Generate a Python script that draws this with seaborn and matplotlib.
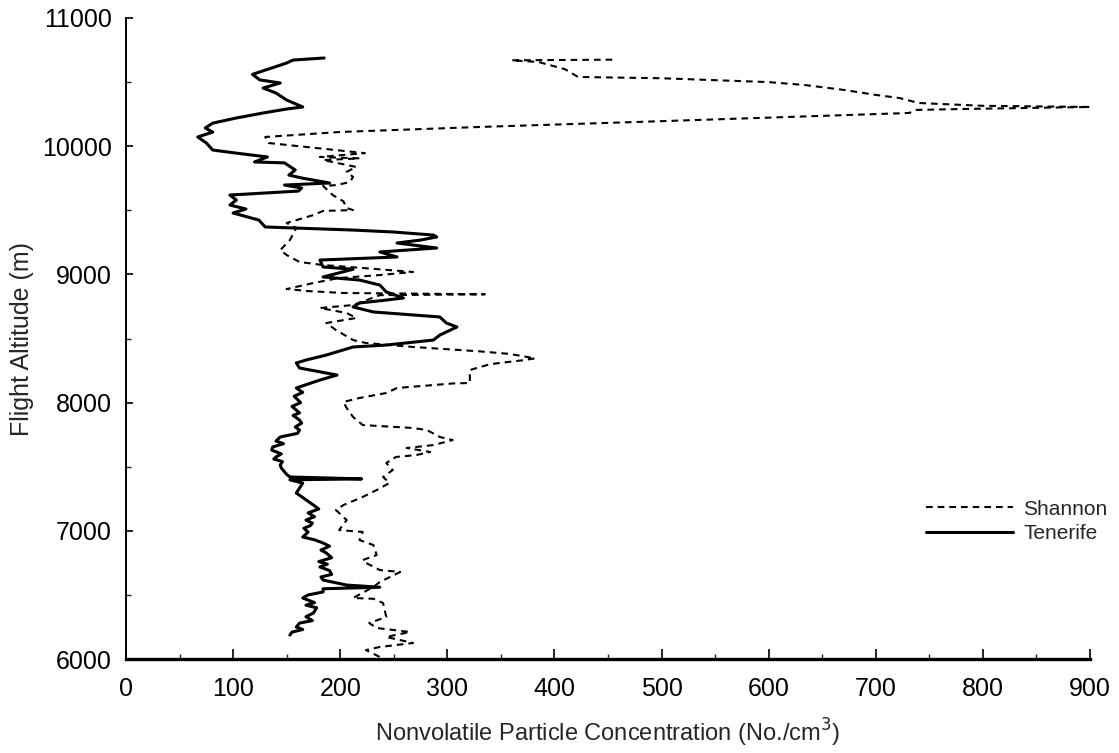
import matplotlib
matplotlib.use("Agg")
import matplotlib.pyplot as plt
import seaborn as sns
import pandas as pd

# Tenerife profile (solid), traced from the top of the flight down
tenerife_alt = [10688, 10672, 10649, 10580, 10560, 10517, 10493, 10454, 10415, 10360,
                10306, 10290, 10259, 10220, 10180, 10142, 10110, 10072, 10025, 9970,
                9946, 9916, 9877, 9870, 9814, 9775, 9752, 9713, 9697, 9674,
                9650, 9619, 9580, 9541, 9510, 9479, 9424, 9370, 9346, 9331,
                9307, 9292, 9268, 9245, 9206, 9175, 9136, 9112, 9058, 9040,
                8980, 8956, 8917, 8863, 8816, 8800, 8777, 8746, 8707, 8668,
                8621, 8590, 8527, 8488, 8449, 8434, 8371, 8332, 8309, 8270,
                8215, 8176, 8114, 8080, 8050, 8000, 7970, 7920, 7900, 7864,
                7840, 7810, 7786, 7760, 7732, 7700, 7680, 7654, 7630, 7600,
                7576, 7560, 7540, 7513, 7490, 7460, 7440, 7420, 7405, 7398,
                7372, 7295, 7201, 7170, 7140, 7110, 7084, 7060, 7040, 7020,
                6990, 6952, 6930, 6905, 6880, 6850, 6827, 6790, 6760, 6740,
                6718, 6690, 6660, 6640, 6616, 6577, 6560, 6548, 6523, 6500,
                6476, 6440, 6420, 6400, 6359, 6330, 6300, 6280, 6250, 6230,
                6210, 6187]
tenerife_conc = [185, 156, 150, 125, 118, 125, 144, 128, 140, 150,
                 165, 150, 128, 103, 81, 74, 81, 67, 75, 81,
                 103, 132, 120, 148, 158, 152, 164, 190, 148, 164,
                 161, 97, 103, 97, 112, 100, 124, 130, 212, 249,
                 287, 290, 275, 253, 290, 237, 253, 181, 184, 212,
                 184, 218, 237, 243, 259, 243, 218, 212, 231, 293,
                 299, 309, 293, 287, 243, 212, 187, 168, 159, 162,
                 197, 181, 159, 165, 157, 163, 155, 162, 156, 162,
                 164, 158, 162, 160, 144, 140, 147, 137, 136, 145,
                 140, 138, 146, 144, 145, 148, 150, 153, 220, 153,
                 165, 159, 175, 180, 170, 176, 168, 174, 172, 166,
                 170, 165, 176, 184, 190, 182, 187, 192, 180, 188,
                 181, 190, 192, 182, 184, 206, 237, 184, 184, 170,
                 165, 176, 168, 178, 175, 168, 174, 162, 159, 165,
                 155, 153]

# Shannon profile (dashed)
shannon_alt = [10675, 10670, 10657, 10600, 10540, 10530, 10500, 10477, 10438, 10400,
               10376, 10337, 10315, 10306, 10290, 10283, 10259, 10189, 10150, 10111,
               10072, 10025, 9946, 9916, 9905, 9892, 9838, 9800, 9760, 9721,
               9697, 9690, 9619, 9570, 9518, 9502, 9495, 9463, 9401, 9362,
               9268, 9190, 9151, 9097, 9073, 9050, 9019, 8995, 8972, 8933,
               8886, 8870, 8855, 8845, 8838, 8761, 8738, 8699, 8660, 8621,
               8566, 8488, 8465, 8434, 8400, 8380, 8345, 8330, 8300, 8254,
               8153, 8150, 8114, 8075, 8036, 8005, 7958, 7888, 7825, 7802,
               7786, 7732, 7708, 7669, 7646, 7615, 7591, 7576, 7529, 7474,
               7420, 7373, 7318, 7264, 7201, 7162, 7084, 7006, 6991, 6928,
               6889, 6811, 6772, 6750, 6694, 6679, 6601, 6562, 6476, 6470,
               6437, 6328, 6281, 6242, 6211, 6172, 6125, 6094, 6070, 6016]
shannon_conc = [454, 360, 385, 410, 422, 500, 600, 634, 671, 700,
                722, 740, 800, 900, 780, 738, 731, 477, 330, 200,
                130, 133, 223, 181, 218, 184, 215, 206, 212, 209,
                197, 184, 193, 203, 206, 212, 184, 175, 150, 159,
                153, 144, 150, 162, 184, 221, 268, 237, 199, 175,
                150, 170, 203, 335, 237, 212, 181, 206, 215, 187,
                196, 212, 224, 268, 330, 358, 382, 370, 340, 321,
                321, 306, 253, 243, 218, 203, 206, 212, 221, 268,
                281, 293, 305, 287, 262, 284, 271, 252, 243, 249,
                240, 246, 234, 221, 203, 196, 206, 199, 221, 218,
                231, 234, 221, 224, 237, 256, 237, 231, 212, 231,
                240, 243, 227, 234, 265, 243, 268, 237, 224, 237]

sns.set_theme(style="ticks")
plt.rcParams["font.family"] = ["Liberation Sans", "DejaVu Sans"]

shannon = pd.DataFrame({"conc": shannon_conc, "alt": shannon_alt})
tenerife = pd.DataFrame({"conc": tenerife_conc, "alt": tenerife_alt})

fig = plt.figure(figsize=(11.19, 7.53), dpi=100)
ax = fig.add_axes([0.1126, 0.1248, 0.8615, 0.8513])

sns.lineplot(data=shannon, x="conc", y="alt", sort=False, estimator=None, ax=ax,
             color="black", linewidth=1.5, dashes=False, label="Shannon")
ax.lines[-1].set_linestyle((0, (3.2, 2.4)))
sns.lineplot(data=tenerife, x="conc", y="alt", sort=False, estimator=None, ax=ax,
             color="black", linewidth=2.2, label="Tenerife")

ax.set_xlim(0, 900)
ax.set_ylim(6000, 11000)
ax.set_xticks(range(0, 901, 100))
ax.set_xticks(range(50, 900, 100), minor=True)
ax.set_yticks(range(6000, 11001, 1000))
ax.set_yticks(range(6500, 11000, 1000), minor=True)
ax.tick_params(axis="both", which="major", direction="in", length=7, width=1.2,
               labelsize=18, colors="black")
ax.tick_params(axis="x", which="major", pad=13)
ax.tick_params(axis="y", which="major", length=5, pad=10)
ax.tick_params(axis="both", which="minor", direction="in", length=3.5, width=1.0)

for side in ("top", "right"):
    ax.spines[side].set_visible(False)
ax.spines["left"].set_linewidth(1.4)
ax.spines["bottom"].set_linewidth(2.4)
for side in ("left", "bottom"):
    ax.spines[side].set_color("black")

ax.set_xlabel("Nonvolatile Particle Concentration (No./cm$^3$)", fontsize=17, labelpad=11)
ax.set_ylabel("Flight Altitude (m)", fontsize=18, labelpad=6)

ax.legend(loc="center left", bbox_to_anchor=(0.81, 0.215), frameon=False,
          fontsize=15, handlelength=4.2, handletextpad=0.5, labelspacing=0.25)

fig.savefig("out.png", dpi=100)
